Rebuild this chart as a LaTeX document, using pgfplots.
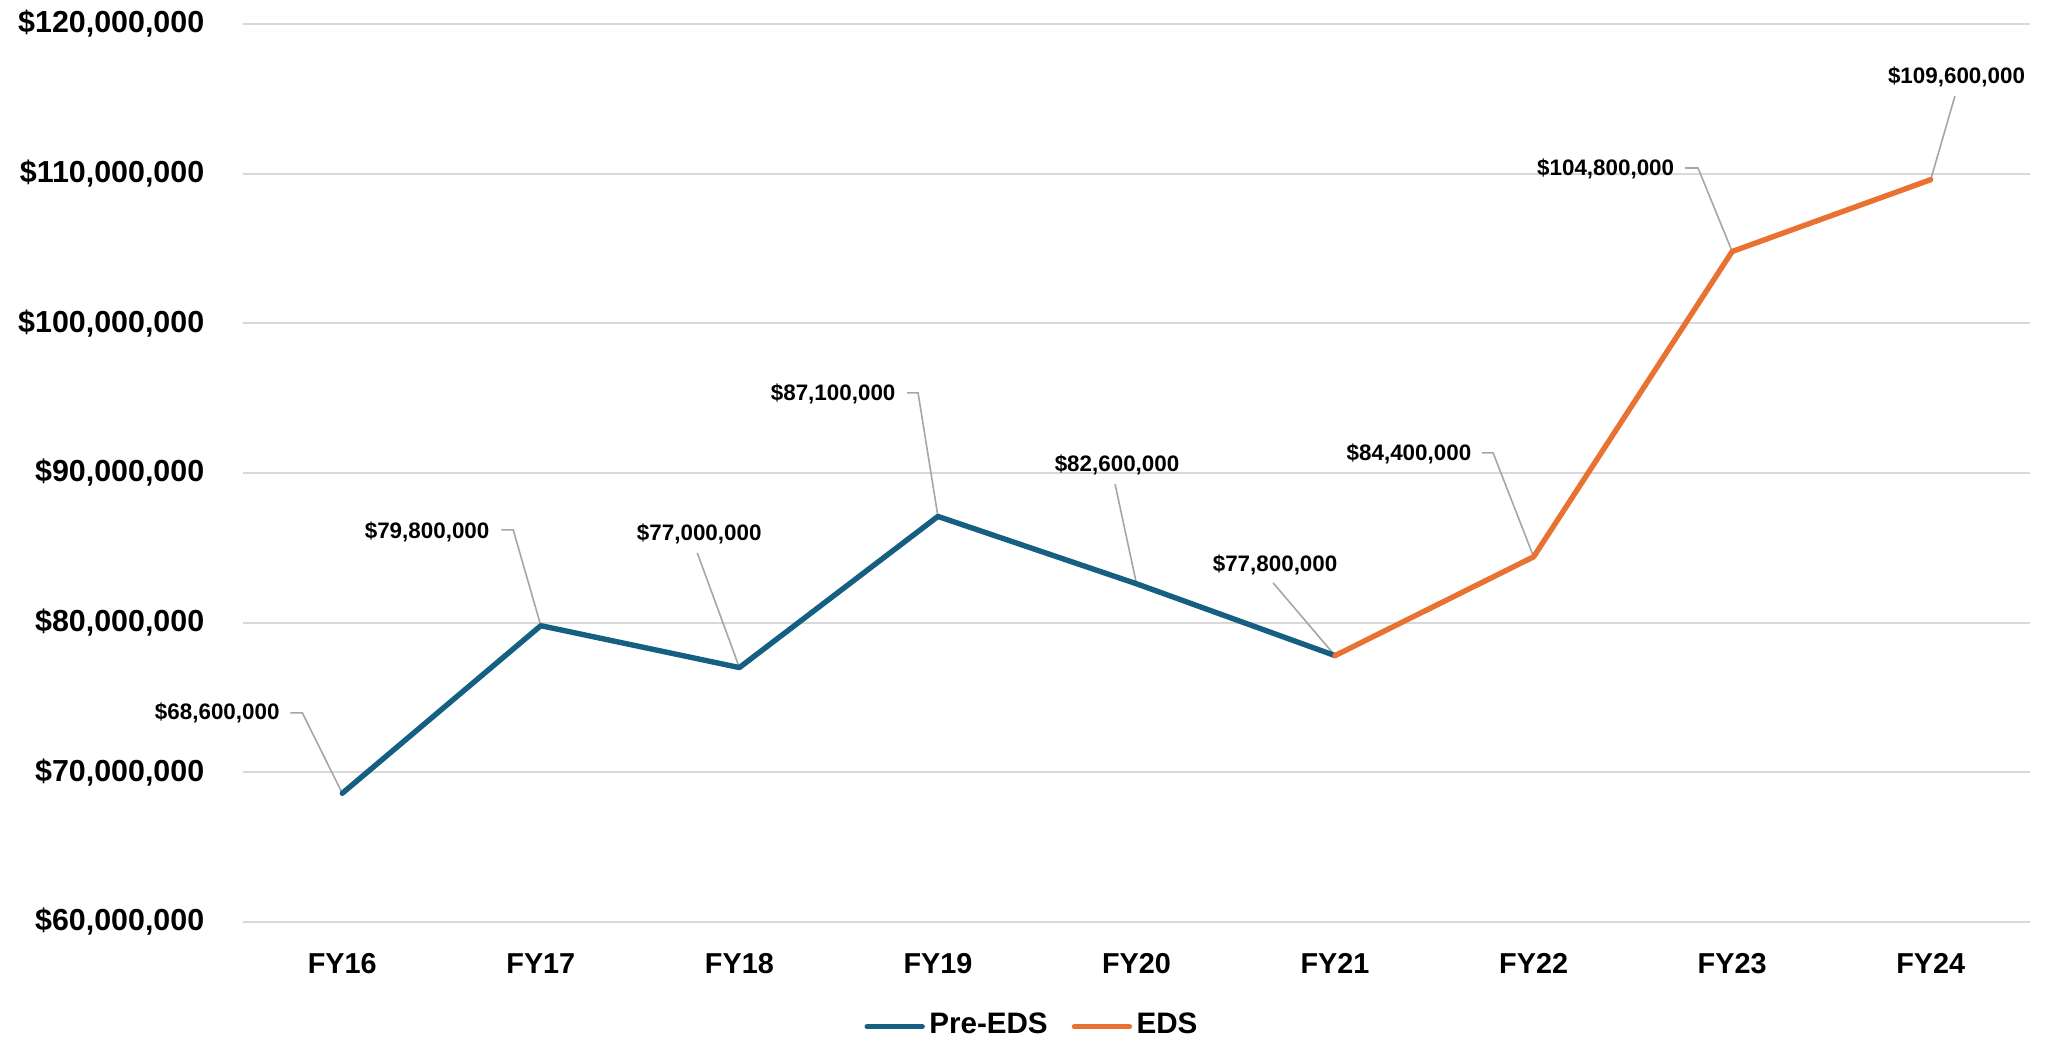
\documentclass[border=0pt]{standalone}
\usepackage{fontspec}
\setmainfont{Liberation Sans}
\usepackage{pgfplots}
\pgfplotsset{compat=1.18}
\definecolor{preeds}{HTML}{156082}
\definecolor{eds}{HTML}{E97132}
\definecolor{gridc}{HTML}{D9D9D9}
\definecolor{leader}{HTML}{A6A6A6}
\newcommand{\lbl}{\fontsize{5.6pt}{6.5pt}\selectfont\bfseries}
\begin{document}
\begin{tikzpicture}
\useasboundingbox (-60.75pt,-29.75pt) rectangle (450.75pt,230.5pt);
\begin{axis}[
  scale only axis, width=446.75pt, height=224.5pt,
  xmin=-0.5, xmax=8.5, ymin=60, ymax=120,
  xtick={0,1,2,3,4,5,6,7,8},
  xticklabels={FY16,FY17,FY18,FY19,FY20,FY21,FY22,FY23,FY24},
  ytick={60,70,80,90,100,110,120},
  yticklabels={{\$60,000,000},{\$70,000,000},{\$80,000,000},{\$90,000,000},{\$100,000,000},{\$110,000,000},{\$120,000,000}},
  axis line style={draw=none}, major tick length=0pt,
  ymajorgrids, major grid style={gridc, line width=0.5pt},
  xticklabel style={font=\fontsize{7.2pt}{8pt}\selectfont\bfseries, anchor=north, inner sep=0pt, yshift=-7.75pt},
  yticklabel style={font=\fontsize{7.6pt}{8pt}\selectfont\bfseries, anchor=east, inner sep=0pt, xshift=-9.5pt},
  clip=false,
  legend style={at={(0.4415,-0.1165)}, anchor=center, draw=none, fill=none,
    legend columns=2, font=\fontsize{7.4pt}{8pt}\selectfont\bfseries,
    inner sep=0pt, outer sep=0pt, nodes={inner sep=0.5pt},
    /tikz/every odd column/.append style={column sep=0.6pt},
    /tikz/every even column/.append style={column sep=5.5pt}},
  legend image code/.code={\draw[#1, line cap=round] (0pt,0pt) -- (13.75pt,0pt);},
]
% leader lines
\draw[leader, line width=0.4pt] (axis cs:-0.262,73.97) -- (axis cs:-0.201,73.97) -- (axis cs:0,68.6);
\draw[leader, line width=0.4pt] (axis cs:0.801,86.20) -- (axis cs:0.861,86.20) -- (axis cs:1,79.8);
\draw[leader, line width=0.4pt] (axis cs:1.788,84.66) -- (axis cs:2,77.0);
\draw[leader, line width=0.4pt] (axis cs:2.845,95.35) -- (axis cs:2.900,95.35) -- (axis cs:3,87.1);
\draw[leader, line width=0.4pt] (axis cs:3.892,89.27) -- (axis cs:4,82.6);
\draw[leader, line width=0.4pt] (axis cs:4.688,82.66) -- (axis cs:5,77.8);
\draw[leader, line width=0.4pt] (axis cs:5.740,91.35) -- (axis cs:5.796,91.35) -- (axis cs:6,84.4);
\draw[leader, line width=0.4pt] (axis cs:6.762,110.38) -- (axis cs:6.828,110.38) -- (axis cs:7,104.8);
\draw[leader, line width=0.4pt] (axis cs:8.122,115.19) -- (axis cs:8,109.6);

\addplot[preeds, line width=1.35pt, line join=round, line cap=round] coordinates {
  (0,68.6) (1,79.8) (2,77.0) (3,87.1) (4,82.6) (5,77.8)
};
\addlegendentry{Pre-EDS}
\addplot[eds, line width=1.35pt, line join=round, line cap=round] coordinates {
  (5,77.8) (6,84.4) (7,104.8) (8,109.6)
};
\addlegendentry{EDS}

% data labels
\node[anchor=east, inner sep=0pt, font=\lbl] at (axis cs:-0.312,73.97) {\$68,600,000};
\node[anchor=east, inner sep=0pt, font=\lbl] at (axis cs:0.745,86.07) {\$79,800,000};
\node[anchor=center, inner sep=0pt, font=\lbl] at (axis cs:1.798,85.93) {\$77,000,000};
\node[anchor=east, inner sep=0pt, font=\lbl] at (axis cs:2.790,95.28) {\$87,100,000};
\node[anchor=center, inner sep=0pt, font=\lbl] at (axis cs:3.902,90.54) {\$82,600,000};
\node[anchor=center, inner sep=0pt, font=\lbl] at (axis cs:4.698,83.86) {\$77,800,000};
\node[anchor=east, inner sep=0pt, font=\lbl] at (axis cs:5.690,91.28) {\$84,400,000};
\node[anchor=east, inner sep=0pt, font=\lbl] at (axis cs:6.712,110.31) {\$104,800,000};
\node[anchor=center, inner sep=0pt, font=\lbl] at (axis cs:8.130,116.46) {\$109,600,000};
\end{axis}
\end{tikzpicture}
\end{document}
